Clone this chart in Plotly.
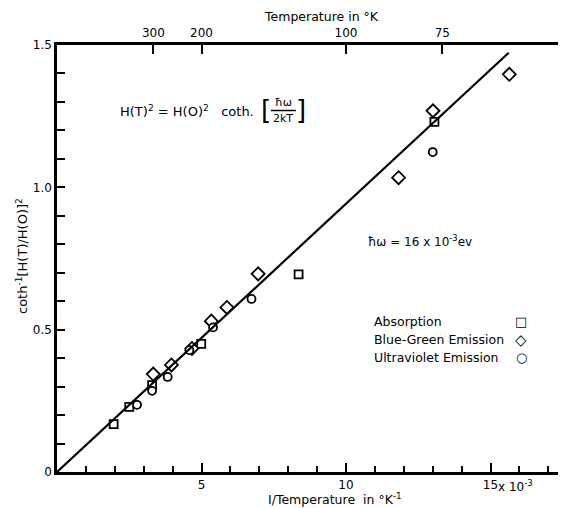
import plotly.graph_objects as go

# ---- data ----
abs_x = [1.96, 2.50, 3.29, 4.99, 8.36, 13.06]
abs_y = [0.168, 0.229, 0.305, 0.450, 0.694, 1.230]
bg_x = [3.33, 3.96, 4.67, 5.34, 5.88, 6.96, 11.82, 13.01, 15.65]
bg_y = [0.344, 0.376, 0.434, 0.530, 0.578, 0.696, 1.034, 1.269, 1.397]
uv_x = [2.77, 3.29, 3.83, 4.58, 5.40, 6.73, 13.00]
uv_y = [0.236, 0.285, 0.334, 0.428, 0.508, 0.608, 1.124]
fit_x = [0, 15.63]
fit_y = [0, 1.473]
temp_labels = [300, 200, 100, 75]
x_ticks = [5, 10, 15]
x_ticktext = ["5", "10", "15"]
y_ticks = [0, 0.5, 1.0, 1.5]
y_ticktext = ["0", "0.5", "1.0", "1.5"]
legend_names = ["Absorption", "Blue-Green Emission", "Ultraviolet Emission"]
legend_syms = ["\u25A1", "\u25C7", "\u25CB"]

# page body has an 8px margin: figure is shifted by OFF
OFF = 8
PW, PH = 566, 508                      # page size
PL, PT, PB = 57, 45, 472               # plot left / top / bottom on page
W, H = PW - OFF, PH - OFF
L, T, B, R = PL - OFF, PT - OFF, PH - PB, 0
XMAX = (PW - PL) / 28.9
FONT = "DejaVu Sans"


def px(x):
    return (x - PL) / (PW - PL)


def py(y):
    return (PB - y) / (PB - PT)


fig = go.Figure()
mk_line = dict(color="black", width=1.8)
fig.add_trace(go.Scatter(x=fit_x, y=fit_y, mode="lines",
                         line=dict(color="black", width=2.2), xaxis="x2",
                         showlegend=False, hoverinfo="skip"))
fig.add_trace(go.Scatter(x=abs_x, y=abs_y, mode="markers", name="Absorption",
                         marker=dict(symbol="square", size=8, color="white", line=mk_line),
                         showlegend=False))
fig.add_trace(go.Scatter(x=bg_x, y=bg_y, mode="markers", name="Blue-Green Emission",
                         marker=dict(symbol="diamond", size=10, color="white", line=mk_line),
                         showlegend=False))
fig.add_trace(go.Scatter(x=uv_x, y=uv_y, mode="markers", name="Ultraviolet Emission",
                         marker=dict(symbol="circle", size=8, color="white", line=mk_line),
                         showlegend=False))

axfont = dict(family=FONT, size=12, color="black")
common = dict(showgrid=False, zeroline=False, showline=True, linecolor="black",
              linewidth=2.5, ticks="inside", tickwidth=2, tickcolor="black",
              tickfont=axfont, automargin=False, tickmode="array")
fig.update_layout(
    width=W, height=H,
    margin=dict(l=L, r=R, t=T, b=B, pad=0),
    paper_bgcolor="white", plot_bgcolor="white",
    font=axfont,
    xaxis=dict(range=[0, XMAX], tickvals=x_ticks, ticktext=x_ticktext, ticklen=9,
               minor=dict(tickmode="linear", tick0=0, dtick=1, ticks="inside",
                          ticklen=6, tickwidth=2, tickcolor="black"),
               **common),
    xaxis2=dict(overlaying="x", side="top", matches="x",
                tickvals=[1000 / t for t in temp_labels],
                ticktext=[str(t) for t in temp_labels], ticklen=9, **common),
    yaxis=dict(range=[0, 1.5], tickvals=y_ticks, ticktext=y_ticktext, ticklen=8,
               minor=dict(tickmode="linear", tick0=0, dtick=0.1, ticks="inside",
                          ticklen=8, tickwidth=2, tickcolor="black"),
               **common),
)

ann = []


def add(text, x, y, size=12, xanchor="center", yanchor="middle", angle=0):
    ann.append(dict(text=text, x=px(x), y=py(y), xref="paper", yref="paper",
                    showarrow=False, xanchor=xanchor, yanchor=yanchor,
                    textangle=angle, font=dict(family=FONT, size=size, color="black")))


add("Temperature in \u00b0K", 321, 17, 12.5)
add("I/Temperature  in \u00b0K<sup>-1</sup>", 335, 499, 12.5)
add("coth<sup>-1</sup>[H(T)/H(O)]<sup>2</sup>", 22, 256, 13, angle=-90)
add("x 10<sup>-3</sup>", 496, 486, 12, xanchor="left")
add("H(T)<sup>2</sup> = H(O)<sup>2</sup>   coth.", 118, 111, 13, xanchor="left")
add("[", 266, 110, 26)
add("]", 301, 110, 26)
add("\u0127\u03c9", 283, 102, 11)
add("2kT", 283, 119, 11)
add("\u0127\u03c9 = 16 x 10<sup>-3</sup>ev", 366, 241, 12, xanchor="left")
for i, (nm, sym) in enumerate(zip(legend_names, legend_syms)):
    yy = 321 + 18.5 * i
    add(nm, 372, yy, 12.5, xanchor="left")
    add(sym, 521, yy, 13 if i != 1 else 15)
fig.update_layout(annotations=ann)
fig.add_shape(type="line", xref="paper", yref="paper",
              x0=px(271), x1=px(296), y0=py(110.5), y1=py(110.5),
              line=dict(color="black", width=1.5))

fig.write_html("out.html")
